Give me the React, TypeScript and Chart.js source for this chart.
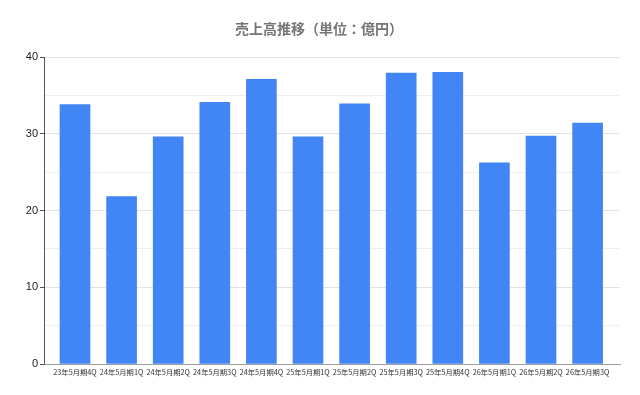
import React, { useEffect, useRef } from "react";
import { Chart, registerables } from "chart.js";

Chart.register(...registerables);

const chartTitle = "売上高推移（単位：億円）";
const categories = [
  "23年5月期4Q",
  "24年5月期1Q",
  "24年5月期2Q",
  "24年5月期3Q",
  "24年5月期4Q",
  "25年5月期1Q",
  "25年5月期2Q",
  "25年5月期3Q",
  "25年5月期4Q",
  "26年5月期1Q",
  "26年5月期2Q",
  "26年5月期3Q",
];
const sales = [33.8, 21.8, 29.6, 34.1, 37.1, 29.6, 33.9, 37.9, 38.0, 26.2, 29.7, 31.4];

const CJK = '"Noto Sans CJK JP", "Noto Sans", sans-serif';

const titlePlugin = {
  id: "customTitle",
  afterDraw(chart: any) {
    const ctx = chart.ctx;
    ctx.save();
    ctx.font = `bold 14px ${CJK}`;
    ctx.fillStyle = "#757575";
    ctx.textAlign = "center";
    ctx.textBaseline = "middle";
    ctx.fillText(chartTitle, 319, 29);
    ctx.restore();
  },
};

export default function App() {
  const ref = useRef<HTMLCanvasElement | null>(null);
  useEffect(() => {
    document.body.style.margin = "0";
    const canvas = ref.current;
    if (!canvas) return;
    const chart = new Chart(canvas, {
      type: "bar",
      data: {
        datasets: [
          {
            data: sales.map((v, i) => ({ x: i, y: v })),
            backgroundColor: "#4285F4",
            borderWidth: 0,
            barThickness: 30,
          },
        ],
      },
      options: {
        animation: false,
        responsive: false,
        maintainAspectRatio: false,
        layout: { padding: { top: 57, left: 0, right: 20, bottom: 0 } },
        plugins: {
          legend: { display: false },
          title: { display: false },
          tooltip: { enabled: false },
        },
        scales: {
          x: {
            type: "linear",
            offset: false,
            min: -0.665,
            max: 11.695,
            afterBuildTicks(scale: any) {
              scale.ticks = categories.map((_, i) => ({ value: i }));
            },
            afterFit(scale: any) {
              scale.height = 31;
            },
            grid: { display: true, color: "transparent", drawTicks: false, offset: false },
            border: { display: true, color: "#9e9e9e", width: 1 },
            ticks: {
              autoSkip: false,
              maxRotation: 0,
              padding: 4,
              color: "#333333",
              font: { size: 7.3, family: CJK },
              callback: (v: any) => categories[v as number] ?? "",
            },
          },
          y: {
            min: 0,
            max: 40,
            afterFit(scale: any) {
              scale.width = 44;
            },
            ticks: {
              stepSize: 5,
              padding: 2,
              color: "#222222",
              font: { size: 11, family: '"Liberation Sans", Arial, sans-serif' },
              callback: (v: any) => ((v as number) % 10 === 0 ? String(v) : ""),
            },
            grid: {
              drawTicks: true,
              tickLength: 4,
              color: (c: any) =>
                c.tick && c.tick.value === 0
                  ? "transparent"
                  : c.tick && c.tick.value % 10 === 0
                  ? "#e3e3e3"
                  : "#efefef",
              tickColor: (c: any) =>
                c.tick && c.tick.value % 10 === 0 ? "#555555" : "transparent",
            },
            border: { display: true, color: "#555555", width: 1 },
          },
        },
      },
      plugins: [titlePlugin],
    });
    return () => chart.destroy();
  }, []);
  return (
    <div style={{ width: 640, height: 395, background: "#ffffff" }}>
      <canvas ref={ref} width={640} height={395} style={{ display: "block" }} />
    </div>
  );
}
